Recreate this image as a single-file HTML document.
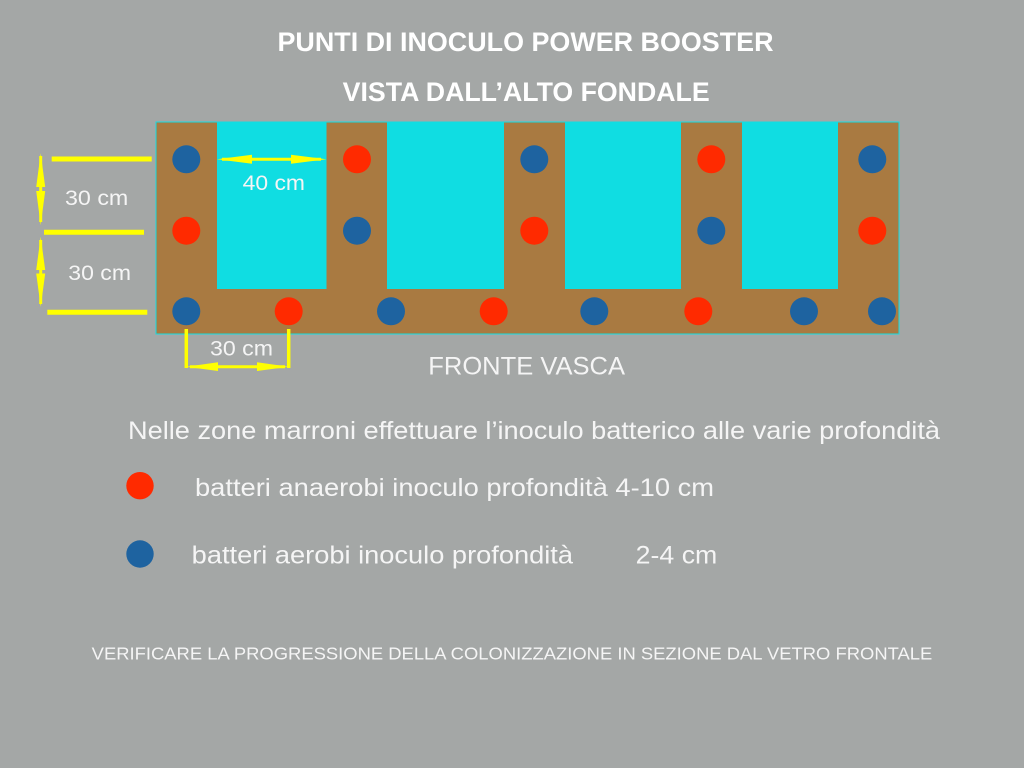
<!DOCTYPE html>
<html>
<head>
<meta charset="utf-8">
<style>
  html,body{margin:0;padding:0;background:#a4a7a6;}
  svg{display:block;}
  text{font-family:"Liberation Sans", Arial, sans-serif;}
</style>
</head>
<body>
<svg width="1024" height="768" viewBox="0 0 1024 768" xmlns="http://www.w3.org/2000/svg">
  <rect x="0" y="0" width="1024" height="768" fill="#a4a7a6"/>

  <!-- Titles -->
  <text x="277.5" y="51" font-size="26.5" font-weight="bold" fill="#ffffff" textLength="496" lengthAdjust="spacingAndGlyphs">PUNTI DI INOCULO POWER BOOSTER</text>
  <text x="342.7" y="101" font-size="26.5" font-weight="bold" fill="#ffffff" textLength="367" lengthAdjust="spacingAndGlyphs">VISTA DALL’ALTO FONDALE</text>

  <!-- Tank top view -->
  <rect x="156" y="122" width="743" height="212" fill="#a97a41" stroke="#12dde2" stroke-width="1"/>
  <rect x="217" y="122.5" width="109.5" height="166.5" fill="#10dde2"/>
  <rect x="387" y="122.5" width="117" height="166.5" fill="#10dde2"/>
  <rect x="565" y="122.5" width="116" height="166.5" fill="#10dde2"/>
  <rect x="742" y="122.5" width="96" height="166.5" fill="#10dde2"/>

  <!-- Dots top row -->
  <circle cx="186.3" cy="159.3" r="14" fill="#1e63a0"/>
  <circle cx="357" cy="159.3" r="14" fill="#ff2a00"/>
  <circle cx="534.3" cy="159.3" r="14" fill="#1e63a0"/>
  <circle cx="711.3" cy="159.3" r="14" fill="#ff2a00"/>
  <circle cx="872.3" cy="159.3" r="14" fill="#1e63a0"/>
  <!-- middle row -->
  <circle cx="186.3" cy="230.7" r="14" fill="#ff2a00"/>
  <circle cx="357" cy="230.7" r="14" fill="#1e63a0"/>
  <circle cx="534.3" cy="230.7" r="14" fill="#ff2a00"/>
  <circle cx="711.3" cy="230.7" r="14" fill="#1e63a0"/>
  <circle cx="872.3" cy="230.7" r="14" fill="#ff2a00"/>
  <!-- bottom row -->
  <circle cx="186.3" cy="311.3" r="14" fill="#1e63a0"/>
  <circle cx="288.7" cy="311.3" r="14" fill="#ff2a00"/>
  <circle cx="391" cy="311.3" r="14" fill="#1e63a0"/>
  <circle cx="493.7" cy="311.3" r="14" fill="#ff2a00"/>
  <circle cx="594.3" cy="311.3" r="14" fill="#1e63a0"/>
  <circle cx="698.3" cy="311.3" r="14" fill="#ff2a00"/>
  <circle cx="804" cy="311.3" r="14" fill="#1e63a0"/>
  <circle cx="882" cy="311.3" r="14" fill="#1e63a0"/>

  <!-- 40 cm arrow -->
  <line x1="222" y1="159.3" x2="321" y2="159.3" stroke="#ffff00" stroke-width="3"/>
  <polygon points="217,159.3 252,154.8 252,163.8" fill="#ffff00"/>
  <polygon points="326.5,159.3 291,154.8 291,163.8" fill="#ffff00"/>
  <text x="242.7" y="190" font-size="21" fill="#f5f5f5" textLength="62.3" lengthAdjust="spacingAndGlyphs">40 cm</text>

  <!-- Left dimension lines -->
  <line x1="51.7" y1="159" x2="151.7" y2="159" stroke="#ffff00" stroke-width="5"/>
  <line x1="44" y1="232.3" x2="144" y2="232.3" stroke="#ffff00" stroke-width="5"/>
  <line x1="47.3" y1="312.3" x2="147.3" y2="312.3" stroke="#ffff00" stroke-width="5"/>

  <line x1="40.7" y1="156" x2="40.7" y2="222" stroke="#ffff00" stroke-width="3"/>
  <polygon points="40.7,153.3 36.2,187 45.2,187" fill="#ffff00"/>
  <polygon points="40.7,225 36.2,191 45.2,191" fill="#ffff00"/>
  <line x1="40.7" y1="240" x2="40.7" y2="304" stroke="#ffff00" stroke-width="3"/>
  <polygon points="40.7,236.7 36.2,270 45.2,270" fill="#ffff00"/>
  <polygon points="40.7,306.7 36.2,273.5 45.2,273.5" fill="#ffff00"/>

  <text x="65" y="205" font-size="21" fill="#f5f5f5" textLength="63.3" lengthAdjust="spacingAndGlyphs">30 cm</text>
  <text x="68.3" y="280" font-size="21" fill="#f5f5f5" textLength="62.7" lengthAdjust="spacingAndGlyphs">30 cm</text>

  <!-- Bottom bracket -->
  <line x1="186.3" y1="329" x2="186.3" y2="368" stroke="#ffff00" stroke-width="3.5"/>
  <line x1="288.7" y1="329" x2="288.7" y2="368" stroke="#ffff00" stroke-width="3.5"/>
  <line x1="190" y1="366.7" x2="285" y2="366.7" stroke="#ffff00" stroke-width="3"/>
  <polygon points="186.3,366.7 218,362.3 218,371" fill="#ffff00"/>
  <polygon points="288.7,366.7 257,362.3 257,371" fill="#ffff00"/>
  <text x="210" y="355.7" font-size="21" fill="#f5f5f5" textLength="63" lengthAdjust="spacingAndGlyphs">30 cm</text>

  <!-- FRONTE VASCA -->
  <text x="428.3" y="374.5" font-size="25" fill="#f5f5f5" textLength="196.7" lengthAdjust="spacingAndGlyphs">FRONTE VASCA</text>

  <!-- Description -->
  <text x="128" y="439" font-size="25" fill="#f5f5f5" textLength="812" lengthAdjust="spacingAndGlyphs">Nelle zone marroni effettuare l’inoculo batterico alle varie profondità</text>

  <!-- Legend -->
  <circle cx="140" cy="485.7" r="13.7" fill="#ff2a00"/>
  <text x="195" y="496" font-size="25" fill="#f5f5f5" textLength="519" lengthAdjust="spacingAndGlyphs">batteri anaerobi inoculo profondità 4-10 cm</text>

  <circle cx="140" cy="554" r="13.7" fill="#1e63a0"/>
  <text x="191.7" y="563.5" font-size="25" fill="#f5f5f5" textLength="381.3" lengthAdjust="spacingAndGlyphs">batteri aerobi inoculo profondità</text>
  <text x="635.7" y="563.5" font-size="25" fill="#f5f5f5" textLength="81.6" lengthAdjust="spacingAndGlyphs">2-4 cm</text>

  <!-- Footer -->
  <text x="91.7" y="659.3" font-size="17.5" fill="#f5f5f5" textLength="840.6" lengthAdjust="spacingAndGlyphs">VERIFICARE LA PROGRESSIONE DELLA COLONIZZAZIONE IN SEZIONE DAL VETRO FRONTALE</text>
</svg>
</body>
</html>
